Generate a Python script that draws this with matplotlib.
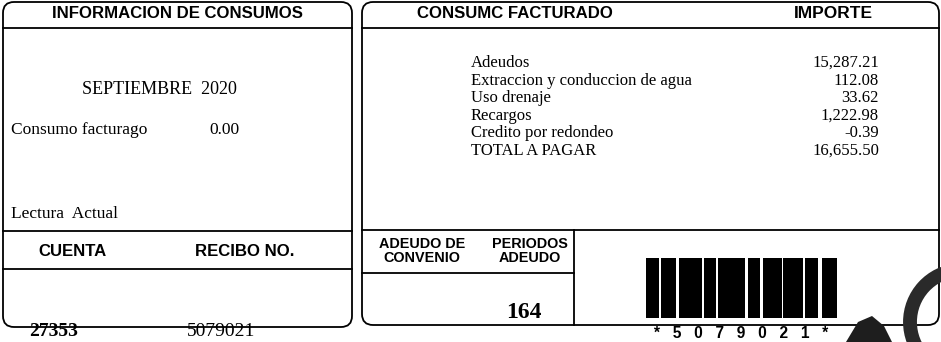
import matplotlib
matplotlib.use("Agg")
import matplotlib.pyplot as plt
from matplotlib import font_manager
from matplotlib.patches import FancyBboxPatch, Arc, Polygon
import numpy as np

# texts of the left panel
titulo_info = "INFORMACION DE CONSUMOS"
periodo = "SEPTIEMBRE  2020"
consumo_label = "Consumo facturago"
consumo_valor = 0.00
lectura_label = "Lectura  Actual"
cuenta_label = "CUENTA"
recibo_label = "RECIBO NO."
cuenta = "27353"
recibo = "5079021"

# texts of the right panel
titulo_consumo = "CONSUMC FACTURADO"
titulo_importe = "IMPORTE"
conceptos = ["Adeudos", "Extraccion y conduccion de agua", "Uso drenaje",
             "Recargos", "Credito por redondeo", "TOTAL A PAGAR"]
importes = [15287.21, 112.08, 33.62, 1222.98, -0.39, 16655.50]
convenio_label = "ADEUDO DE\nCONVENIO"
periodos_label = "PERIODOS\nADEUDO"
periodos_adeudo = 164

# barcode (bar and gap widths in pixels)
bar_widths = [13, 15, 23, 12, 27, 12, 19, 20, 13, 15]
gap_widths = [2, 3, 2, 2, 3, 3, 1, 2, 4]
barcode_text = "*   5   0   7   9   0   2   1   *"

# fonts
names = {f.name for f in font_manager.fontManager.ttflist}
if "Liberation Sans Narrow" in names:
    sans, sans_scale = "Liberation Sans Narrow", 1.0
else:
    sans, sans_scale = "Liberation Sans", 0.86
serif = "Liberation Serif"

W, H = 941, 342
fig = plt.figure(figsize=(W / 100, H / 100), dpi=100)
ax = fig.add_axes([0, 0, 1, 1])
ax.set_xlim(0, W)
ax.set_ylim(H, 0)
ax.axis("off")

lw = 1.3


def box(x0, y0, x1, y1):
    ax.add_patch(FancyBboxPatch((x0, y0), x1 - x0, y1 - y0,
                                boxstyle="round,pad=0,rounding_size=11",
                                fill=False, ec="black", lw=lw))


def head(x, y, s, size, ha="center"):
    ax.text(x, y, s, ha=ha, va="center", family=sans, weight="bold",
            fontsize=size * sans_scale, color="black", linespacing=0.95)


def txt(x, y, s, size, ha="left", weight="normal"):
    ax.text(x, y, s, ha=ha, va="center", family=serif, weight=weight,
            fontsize=size, color="black")


# ---- left panel ----
box(3, 2, 352, 327)
ax.plot([3, 352], [28, 28], color="black", lw=lw)
ax.plot([3, 352], [231, 231], color="black", lw=lw)
ax.plot([3, 352], [269, 269], color="black", lw=lw)
head(177, 14, titulo_info, 14)
txt(159, 90, periodo, 13, ha="center")
txt(11, 130, consumo_label, 12.5)
txt(240, 130, f"{consumo_valor:.2f}", 12.5, ha="right")
txt(11, 214, lectura_label, 12.5)
head(73, 252, cuenta_label, 14)
head(245, 252, recibo_label, 14)
txt(54, 332, cuenta, 14, ha="center", weight="bold")
txt(221, 331, recibo, 14, ha="center")

# ---- right panel ----
box(362, 2, 939, 325)
ax.plot([362, 939], [28, 28], color="black", lw=lw)
ax.plot([362, 939], [230, 230], color="black", lw=lw)
ax.plot([362, 574], [273, 273], color="black", lw=lw)
ax.plot([574, 574], [230, 325], color="black", lw=lw)
head(515, 14, titulo_consumo, 14)
head(833, 14, titulo_importe, 14.5)

row_y = 63
for concepto, importe in zip(conceptos, importes):
    txt(471, row_y, concepto, 12)
    txt(879, row_y, f"{importe:,.2f}", 12, ha="right")
    row_y += 17.6

head(422, 251, convenio_label, 12)
head(530, 251, periodos_label, 12)
txt(524, 312, str(periodos_adeudo), 17, ha="center", weight="bold")

# barcode
lefts = 646 + np.concatenate([[0], np.cumsum(np.array(bar_widths[:-1]) + np.array(gap_widths))])
ax.bar(lefts, 60, width=bar_widths, bottom=258, align="edge", color="black")
head(741, 334, barcode_text, 13)

# stamp fragment
ax.add_patch(Arc((962, 322), 104, 104, theta1=95, theta2=265, color="#2a2a2a", lw=10))
ax.add_patch(Polygon([[846, 342], [858, 322], [872, 316], [884, 326], [892, 342]],
                     closed=True, color="#1e1e1e", lw=0))

fig.savefig("out.png", dpi=100)
